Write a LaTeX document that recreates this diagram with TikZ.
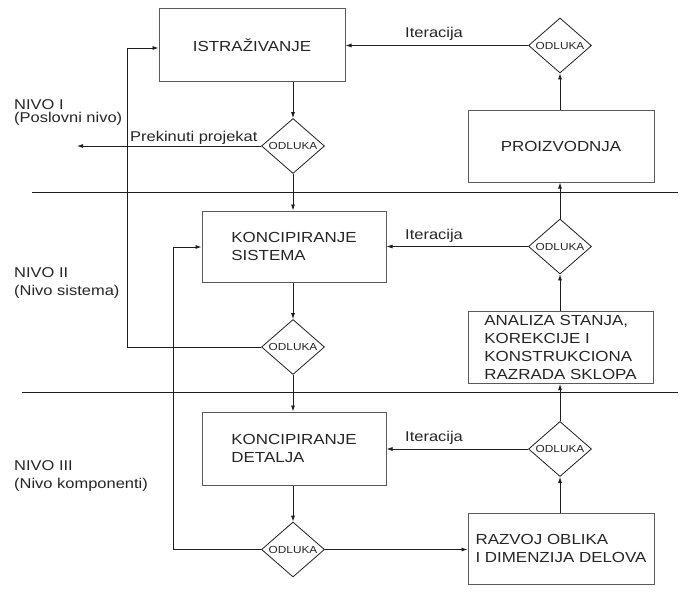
\documentclass[tikz,border=0pt]{standalone}
\usepackage{fontspec}
\setmainfont{Liberation Sans}[FakeStretch=1.16]
\usetikzlibrary{shapes.geometric,arrows.meta}
\definecolor{txt}{HTML}{252525}
\definecolor{boxline}{HTML}{5A5A5A}
\definecolor{conn}{HTML}{1E1E1E}
\begin{document}
\begin{tikzpicture}[x=1pt,y=-1pt,
  every node/.style={text=txt},
  box/.style={draw=boxline,line width=1pt,rectangle,inner sep=0pt,
    font=\fontsize{14.6}{17.7}\selectfont,align=left},
  odluka/.style={draw=conn,line width=0.8pt,diamond,aspect=1.15,inner sep=0pt,
    minimum width=63pt,minimum height=55pt,font=\fontsize{10.2}{12}\selectfont},
  conn/.style={draw=conn,line width=0.8pt},
  arr/.style={conn,-{Latex[length=6pt,width=4pt]}},
  lbl/.style={inner sep=0pt,font=\fontsize{14.2}{17.5}\selectfont},
  lvl/.style={inner sep=0pt,font=\fontsize{14.2}{18}\selectfont,align=left,anchor=north west}
]
\useasboundingbox (0,0) rectangle (684,591);

% level separators
\coordinate (s1a) at (32,192);
\coordinate (s1b) at (678,192);
\coordinate (s2a) at (22,392);
\coordinate (s2b) at (678,392);
\draw[conn] (s1a) -- (s1b);
\draw[conn] (s2a) -- (s2b);

% boxes
\node[box,minimum width=186pt,minimum height=73pt] (istr) at (252,45.5) {ISTRAŽIVANJE};
\node[box,minimum width=186pt,minimum height=72pt] (prod) at (561,146) {PROIZVODNJA};
\node[box,minimum width=184pt,minimum height=71.5pt] (ks) at (294,246.75) {KONCIPIRANJE\\SISTEMA};
\node[box,minimum width=185pt,minimum height=72pt] (an) at (560.5,347.5) {ANALIZA STANJA,\\KOREKCIJE I\\KONSTRUKCIONA\\RAZRADA SKLOPA};
\node[box,minimum width=184pt,minimum height=73pt] (kd) at (294,448.5) {KONCIPIRANJE\\DETALJA};
\node[box,minimum width=186pt,minimum height=71pt] (rz) at (561,548.5) {RAZVOJ OBLIKA\\I DIMENZIJA DELOVA};

% decisions
\node[odluka] (d1) at (293,146) {ODLUKA};
\node[odluka] (d2) at (293,347) {ODLUKA};
\node[odluka] (d3) at (293,549.5) {ODLUKA};
\node[odluka] (dt) at (560,45.5) {ODLUKA};
\node[odluka] (dr2) at (560,246.5) {ODLUKA};
\node[odluka] (dr3) at (560,449) {ODLUKA};

% level labels
\node[lvl] (n1) at (14,99) {NIVO I\\[-4.5pt](Poslovni nivo)};
\node[lvl] (n2) at (14,267) {NIVO II\\(Nivo sistema)};
\node[lvl] (n3) at (14,460) {NIVO III\\(Nivo komponenti)};

% main flow
\draw[arr] (d1.north |- istr.south) -- (d1.north);
\coordinate (stop) at (77,146);
\draw[arr] (d1.west) -- (stop);
\node[lbl,anchor=base west] (pp) at (130,141) {Prekinuti projekat};
\draw[arr] (d1.south) -- (d1.south |- ks.north);
\draw[arr] (d2.north |- ks.south) -- (d2.north);
\draw[arr] (d2.south) -- (d2.south |- kd.north);
\draw[arr] (d3.north |- kd.south) -- (d3.north);
\draw[arr] (d3.east) -- (d3.east -| rz.west);

% feedback loops on the left
\coordinate (fb1) at (127,48);
\draw[arr] (d2.west) -| (fb1) -- (fb1 -| istr.west);
\coordinate (fb2) at (173,247);
\draw[arr] (d3.west) -| (fb2) -- (fb2 -| ks.west);

% right column upward flow
\draw[arr] (dr3.south |- rz.north) -- (dr3.south);
\draw[arr] (dr3.north) -- (dr3.north |- an.south);
\draw[arr] (dr2.south |- an.north) -- (dr2.south);
\draw[arr] (dr2.north) -- (dr2.north |- prod.south);
\draw[arr] (dt.south |- prod.north) -- (dt.south);

% iterations
\draw[arr] (dt.west) -- (dt.west -| istr.east);
\node[lbl,anchor=base west] (it1) at (405,38) {Iteracija};
\draw[arr] (dr2.west) -- (dr2.west -| ks.east);
\node[lbl,anchor=base west] (it2) at (405,239.5) {Iteracija};
\draw[arr] (dr3.west) -- (dr3.west -| kd.east);
\node[lbl,anchor=base west] (it3) at (405,441.5) {Iteracija};
\end{tikzpicture}
\end{document}
